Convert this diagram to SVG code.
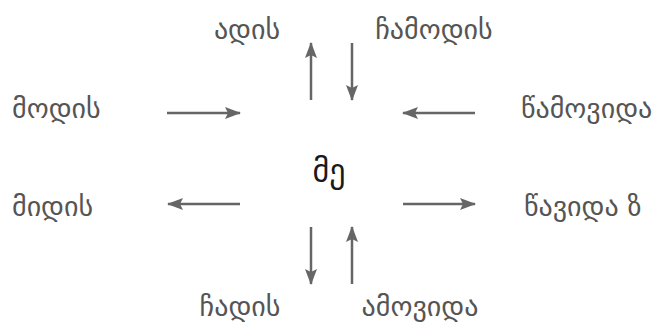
<svg xmlns="http://www.w3.org/2000/svg" width="655" height="331" viewBox="0 0 655 331">
<style>
.lbl{font-family:"DejaVu Sans",sans-serif;font-size:28px;fill:#555}
.ctr{font-family:"DejaVu Sans",sans-serif;font-size:32px;fill:#1a1a1a}
.arr{stroke:#666;stroke-width:2.5;fill:none;marker-end:url(#ah)}
</style>
<defs>
<marker id="ah" viewBox="0 0 16 12" refX="15" refY="6" markerWidth="16" markerHeight="12" markerUnits="userSpaceOnUse" orient="auto">
<path d="M0,0 L16,6 L0,12 L3,6 Z" fill="#666"/>
</marker>
</defs>
<rect width="655" height="331" fill="#fff"/>
<g id="center"><text class="ctr" x="329" y="182" text-anchor="middle">მე</text></g>
<g id="n-adis"><text class="lbl" x="247" y="39" text-anchor="middle">ადის</text></g>
<g id="n-chamodis"><text class="lbl" x="434" y="39" text-anchor="middle">ჩამოდის</text></g>
<g id="n-modis"><text class="lbl" x="12" y="118">მოდის</text></g>
<g id="n-tsamovida"><text class="lbl" x="521" y="118">წამოვიდა</text></g>
<g id="n-midis"><text class="lbl" x="12" y="216">მიდის</text></g>
<g id="n-tsavida"><text class="lbl" x="524" y="216">წავიდა ზ</text></g>
<g id="n-chadis"><text class="lbl" x="240" y="316" text-anchor="middle">ჩადის</text></g>
<g id="n-amovida"><text class="lbl" x="420" y="316" text-anchor="middle">ამოვიდა</text></g>
<g id="connectors">
<line class="arr" x1="311" y1="100" x2="311" y2="43"/>
<line class="arr" x1="352" y1="43" x2="352" y2="100"/>
<line class="arr" x1="167" y1="113" x2="240" y2="113"/>
<line class="arr" x1="475" y1="113" x2="403" y2="113"/>
<line class="arr" x1="240" y1="204" x2="168" y2="204"/>
<line class="arr" x1="403" y1="204" x2="475" y2="204"/>
<line class="arr" x1="311" y1="227" x2="311" y2="284"/>
<line class="arr" x1="352" y1="284" x2="352" y2="227"/>
</g>
</svg>
